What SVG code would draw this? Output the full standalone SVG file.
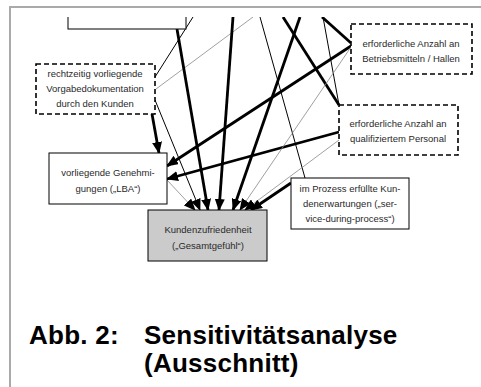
<svg xmlns="http://www.w3.org/2000/svg" width="481" height="387" viewBox="0 0 481 387">
<style>
.t{font-family:"Liberation Sans",Arial,sans-serif;font-size:9.5px;fill:#2a2a2a;text-anchor:middle}
.cap{font-family:"Liberation Sans",Arial,sans-serif;font-size:26px;letter-spacing:0.25px;font-weight:bold;fill:#000}
.box{fill:#fff;stroke:#000;stroke-width:1}
.dash{fill:#fff;stroke:#000;stroke-width:1.6;stroke-dasharray:5,3}
.thick{stroke:#000;stroke-width:2.8;fill:none}
.thin{stroke:#000;stroke-width:1;fill:none}
.gray{stroke:#888;stroke-width:0.8;fill:none}
</style>
<defs>
<marker id="ah" markerUnits="userSpaceOnUse" markerWidth="12" markerHeight="10" viewBox="0 0 12 10" refX="11" refY="5" orient="auto">
<path d="M0,0 L12,5 L0,10 Z" fill="#000"/>
</marker>
<clipPath id="c"><rect x="11" y="17" width="470" height="370"/></clipPath>
</defs>
<rect width="481" height="387" fill="#fff"/>
<path d="M10,387 V7 H481" fill="none" stroke="#aaa" stroke-width="2"/>
<g clip-path="url(#c)">
<g id="connectors">
<line class="thin" x1="193" y1="17" x2="155" y2="77"/>
<line class="gray" x1="253" y1="17" x2="156" y2="89"/>
<line class="thin" x1="260" y1="17" x2="305" y2="178"/>
<line class="thick" x1="283" y1="17" x2="339" y2="105"/>
<line class="thick" x1="322" y1="17" x2="351" y2="43"/>
<line class="thin" x1="323" y1="17" x2="339" y2="105"/>
<line class="thick" x1="351" y1="46" x2="167" y2="166" marker-end="url(#ah)"/>
<line class="thick" x1="339" y1="132" x2="167" y2="179" marker-end="url(#ah)"/>
<line class="thick" x1="152" y1="114" x2="159" y2="153" marker-end="url(#ah)"/>
<line class="thick" x1="177" y1="29" x2="208" y2="210" marker-end="url(#ah)"/>
<line class="thick" x1="233" y1="17" x2="219" y2="210" marker-end="url(#ah)"/>
<line class="thick" x1="300" y1="17" x2="233" y2="210" marker-end="url(#ah)"/>
<line class="thin" x1="155" y1="100" x2="200" y2="210" marker-end="url(#ah)"/>
<line class="gray" x1="167" y1="180" x2="195" y2="210" marker-end="url(#ah)"/>
<line class="gray" x1="351" y1="47" x2="240" y2="210" marker-end="url(#ah)"/>
<line class="gray" x1="339" y1="140" x2="245" y2="210" marker-end="url(#ah)"/>
<line class="thick" x1="291" y1="183" x2="251" y2="210" marker-end="url(#ah)"/>
</g>
<g id="topbox"><rect class="box" x="68" y="0" width="118" height="29"/></g>
</g>
<g id="vorgabe">
<rect class="dash" x="36" y="64" width="119" height="50"/>
<text class="t" x="95" y="77">rechtzeitig vorliegende</text>
<text class="t" x="95" y="92">Vorgabedokumentation</text>
<text class="t" x="95" y="107">durch den Kunden</text>
</g>
<g id="betrieb">
<rect class="dash" x="351" y="24" width="121" height="50"/>
<text class="t" x="411" y="47">erforderliche Anzahl an</text>
<text class="t" x="411" y="62">Betriebsmitteln / Hallen</text>
</g>
<g id="personal">
<rect class="dash" x="339" y="105" width="119" height="50"/>
<text class="t" x="398" y="127">erforderliche Anzahl an</text>
<text class="t" x="398" y="142">qualifiziertem Personal</text>
</g>
<g id="genehm">
<rect class="box" x="49" y="153" width="118" height="51"/>
<text class="t" x="108" y="176">vorliegende Genehmi-</text>
<text class="t" x="108" y="192">gungen („LBA“)</text>
</g>
<g id="prozess">
<rect class="box" x="291" y="178" width="118" height="51"/>
<text class="t" x="350" y="192">im Prozess erfüllte Kun-</text>
<text class="t" x="350" y="207">denerwartungen („ser-</text>
<text class="t" x="350" y="222">vice-during-process“)</text>
</g>
<g id="kunden">
<rect x="148" y="210" width="119" height="51" fill="#cbcbcb" stroke="#000" stroke-width="1"/>
<text class="t" x="208" y="233">Kundenzufriedenheit</text>
<text class="t" x="208" y="249">(„Gesamtgefühl“)</text>
</g>
<g id="caption">
<text class="cap" x="29" y="344">Abb. 2:</text>
<text class="cap" x="144" y="344">Sensitivitätsanalyse</text>
<text class="cap" x="144" y="372">(Ausschnitt)</text>
</g>
</svg>
